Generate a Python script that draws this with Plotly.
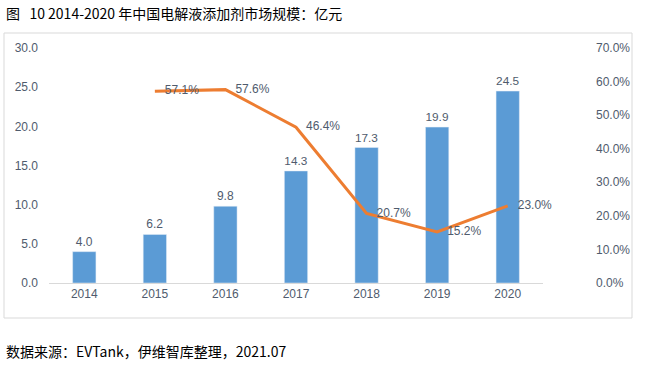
import plotly.graph_objects as go

years = ["2014", "2015", "2016", "2017", "2018", "2019", "2020"]
market = [4.0, 6.2, 9.8, 14.3, 17.3, 19.9, 24.5]
growth_years = ["2015", "2016", "2017", "2018", "2019", "2020"]
growth = [57.1, 57.6, 46.4, 20.7, 15.2, 23.0]
left_ticks = [0, 5, 10, 15, 20, 25, 30]
right_ticks = [0, 10, 20, 30, 40, 50, 60, 70]

title_text = "图\u00a0\u00a0 10 2014-2020 年中国电解液添加剂市场规模：亿元"
source_text = "数据来源：EVTank，伊维智库整理，2021.07"

FONT = "Liberation Sans, Noto Sans CJK SC, sans-serif"
CJK = "Noto Sans CJK SC, sans-serif"
TXT = "#4F5B6D"

fig = go.Figure()
fig.add_trace(go.Bar(
    x=years, y=market, marker_color="#5B9BD5", width=0.33,
    text=[f"{v:.1f}" for v in market], textposition="outside",
    textfont=dict(size=12, color=TXT, family=FONT),
    cliponaxis=False, yaxis="y", showlegend=False, hoverinfo="skip",
))
fig.add_trace(go.Scatter(
    x=growth_years, y=growth, mode="lines+text",
    line=dict(color="#ED7D31", width=3),
    text=[f"\u00a0\u00a0\u00a0{v:.1f}%" for v in growth], textposition="middle right",
    textfont=dict(size=12, color=TXT, family=FONT),
    cliponaxis=False, yaxis="y2", showlegend=False, hoverinfo="skip",
))

L, R, T, B = 38, 54, 48, 85
W = 649 - L - R
H = 368 - T - B

def px(x):
    return (x - L) / W

def py(y):
    return (368 - B - y) / H

fig.update_layout(
    width=649, height=368,
    margin=dict(l=L, r=R, t=T, b=B),
    paper_bgcolor="white", plot_bgcolor="white",
    xaxis=dict(
        domain=[px(49), px(543)], type="category", range=[-0.5, 6.5],
        showline=True, linecolor="#D9D9D9", linewidth=1,
        ticks="", showgrid=False,
        tickfont=dict(size=12, color=TXT, family=FONT),
    ),
    yaxis=dict(
        range=[0, 30], tickvals=left_ticks,
        ticktext=[f"{v:.1f}" for v in left_ticks],
        anchor="free", position=0,
        showgrid=False, zeroline=False, showline=False, ticks="",
        tickfont=dict(size=12, color=TXT, family=FONT),
    ),
    yaxis2=dict(
        range=[0, 70], tickvals=right_ticks,
        ticktext=[f"{v:.1f}%" for v in right_ticks],
        overlaying="y", side="right", anchor="free", position=1,
        showgrid=False, zeroline=False, showline=False, ticks="",
        tickfont=dict(size=12, color=TXT, family=FONT),
    ),
    shapes=[dict(
        type="rect", xref="paper", yref="paper",
        x0=px(4), x1=px(632), y0=py(318), y1=py(33),
        line=dict(color="#D9D9D9", width=1), fillcolor="rgba(0,0,0,0)",
        layer="below",
    )],
    annotations=[
        dict(text=title_text, xref="paper", yref="paper", x=px(4), y=py(13),
             xanchor="left", yanchor="middle", showarrow=False,
             font=dict(size=14, color="#000000", family=CJK)),
        dict(text=source_text, xref="paper", yref="paper", x=px(4), y=py(351),
             xanchor="left", yanchor="middle", showarrow=False,
             font=dict(size=14, color="#000000", family=CJK)),
    ],
)

fig.write_html("out.html", config={"displayModeBar": False},
               post_script="document.body.style.margin='0px';")
